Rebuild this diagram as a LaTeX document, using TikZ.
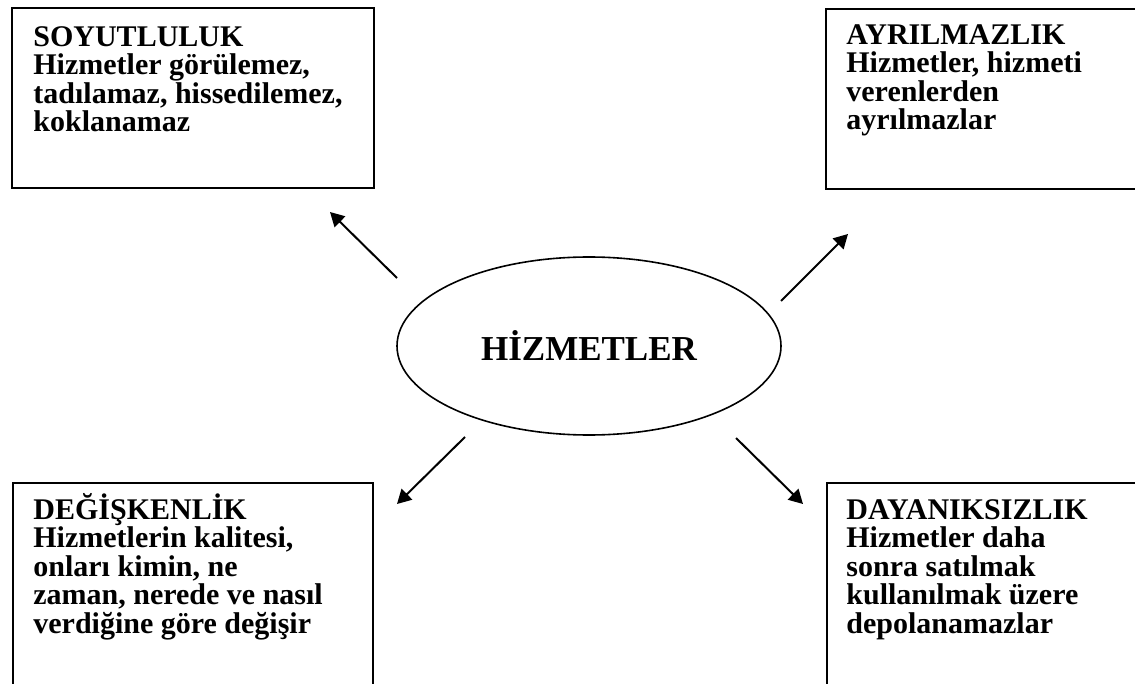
\documentclass[tikz,border=0pt]{standalone}
\usepackage{fontspec}
\setmainfont{Liberation Serif}
\usetikzlibrary{shapes.geometric,arrows.meta}
\begin{document}
\begin{tikzpicture}[x=0.5pt,y=-0.5pt,
  box/.style={draw, line width=1pt, inner sep=0, rectangle},
  lbl/.style={anchor=base west, align=left, inner sep=0,
    font=\bfseries\fontsize{15}{14.25}\selectfont},
  arr/.style={line width=1pt, -{Triangle[length=7pt,width=7.5pt]}}]
\path[use as bounding box, clip] (0,0) rectangle (1135,684);
\fill[white] (0,0) rectangle (1135,684);
% boxes
\node[box, minimum width=181pt, minimum height=90pt] (tl) at (193,98) {};
\node[box, minimum width=160pt, minimum height=90pt, anchor=north west] (tr) at (825,8) {};
\node[box, minimum width=180pt, minimum height=120pt, anchor=north west] (bl) at (12,482) {};
\node[box, minimum width=160pt, minimum height=120pt, anchor=north west] (br) at (826,482) {};
% texts (anchored at baseline of last line)
\node[lbl] (tlt) at (33,132) {SOYUTLULUK\\Hizmetler görülemez,\\tadılamaz, hissedilemez,\\koklanamaz};
\node[lbl] (trt) at (846,130) {AYRILMAZLIK\\Hizmetler, hizmeti\\verenlerden\\ayrılmazlar};
\node[lbl] (blt) at (33,633) {DEĞİŞKENLİK\\Hizmetlerin kalitesi,\\onları kimin, ne\\zaman, nerede ve nasıl\\verdiğine göre değişir};
\node[lbl] (brt) at (846,633) {DAYANIKSIZLIK\\Hizmetler daha\\sonra satılmak\\kullanılmak üzere\\depolanamazlar};
% center
\node[ellipse, draw, line width=0.8pt, minimum width=192pt, minimum height=89pt, inner sep=0,
  font=\bfseries\fontsize{17.5}{20}\selectfont] (c) at (589,346) {HİZMETLER};
% arrow ends
\coordinate (a1s) at (397,278); \coordinate (a1e) at (330,212);
\coordinate (a2s) at (781,301); \coordinate (a2e) at (848,234);
\coordinate (a3s) at (465,437); \coordinate (a3e) at (397,504);
\coordinate (a4s) at (736,438); \coordinate (a4e) at (803,504);
\draw[arr] (a1s) -- (a1e);
\draw[arr] (a2s) -- (a2e);
\draw[arr] (a3s) -- (a3e);
\draw[arr] (a4s) -- (a4e);
\end{tikzpicture}
\end{document}
